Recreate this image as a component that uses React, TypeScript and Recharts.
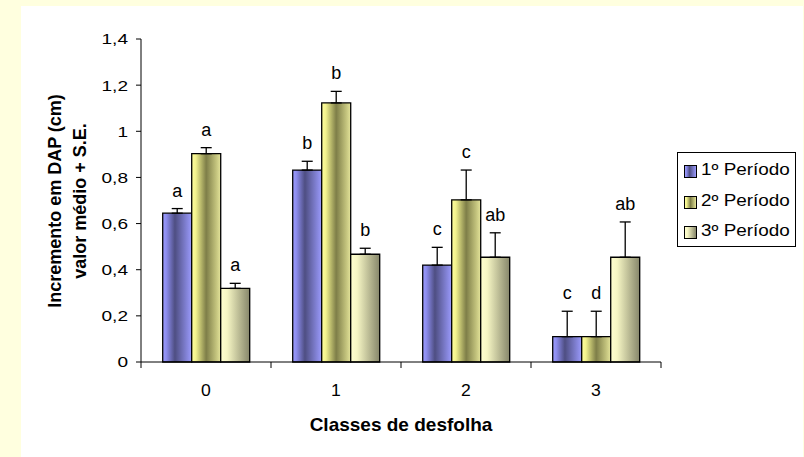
import React from "react";
import { Bar, BarChart, ErrorBar, LabelList, Legend, XAxis, YAxis } from "recharts";

const CLASSES = ["0", "1", "2", "3"];
const PERIODS = ["1º Período", "2º Período", "3º Período"];

// mean increment per defoliation class, one array per period
const P1 = [0.645, 0.832, 0.42, 0.11];
const P2 = [0.903, 1.123, 0.703, 0.11];
const P3 = [0.319, 0.467, 0.454, 0.454];

// standard errors (drawn upward only)
const E1 = [0.02, 0.038, 0.077, 0.11];
const E2 = [0.026, 0.05, 0.129, 0.11];
const E3 = [0.022, 0.026, 0.106, 0.153];

// significance letters
const L1 = ["a", "b", "c", "c"];
const L2 = ["a", "b", "c", "d"];
const L3 = ["a", "b", "ab", "ab"];

const Y_TICKS = [0, 0.2, 0.4, 0.6, 0.8, 1, 1.2, 1.4];

const FONT = "'Liberation Sans', Arial, sans-serif";

const rows = CLASSES.map((c, i) => ({
  classe: c,
  p1: P1[i],
  p2: P2[i],
  p3: P3[i],
  e1: [0, E1[i]],
  e2: [0, E2[i]],
  e3: [0, E3[i]],
}));

const GRADS: { id: string; stops: [string, string][] }[] = [
  {
    id: "g1",
    stops: [
      ["0%", "#9c9cff"],
      ["12%", "#8e8ef0"],
      ["42%", "#4e4e82"],
      ["100%", "#9a9afc"],
    ],
  },
  {
    id: "g2",
    stops: [
      ["0%", "#ffff9c"],
      ["14%", "#f2f28e"],
      ["50%", "#7e7e48"],
      ["85%", "#c4c47e"],
      ["100%", "#e4e49a"],
    ],
  },
  {
    id: "g3",
    stops: [
      ["0%", "#ffffd0"],
      ["22%", "#f6f6c4"],
      ["100%", "#86866a"],
    ],
  },
];

const cssGrad = (id: string) =>
  `linear-gradient(to right, ${GRADS.find((g) => g.id === id)!.stops
    .map(([o, c]) => `${c} ${o}`)
    .join(", ")})`;

const fmt = (v: number) => String(Number(v.toFixed(1))).replace(".", ",");

function YTick({ x, y, payload }: any) {
  return (
    <g transform={`translate(${x},${y}) scale(1.27,1)`}>
      <text x={0} y={0} dy="0.36em" textAnchor="end" fontSize={15} fontFamily={FONT} fill="#000">
        {fmt(payload.value)}
      </text>
    </g>
  );
}

function XTick({ x, y, payload, index }: any) {
  const half = payload.offset || 65;
  return (
    <g>
      <line x1={x - half} x2={x - half} y1={y} y2={y + 6} stroke="#000" />
      {index === CLASSES.length - 1 && (
        <line x1={x + half} x2={x + half} y1={y} y2={y + 6} stroke="#000" />
      )}
      <g transform={`translate(${x},${y + 34}) scale(1.1,1)`}>
        <text x={0} y={0} textAnchor="middle" fontSize={16} fontFamily={FONT} fill="#000">
          {payload.value}
        </text>
      </g>
    </g>
  );
}

function XTitle({ viewBox }: any) {
  return (
    <text
      x={viewBox.x + viewBox.width / 2}
      y={viewBox.y + 69}
      textAnchor="middle"
      fontSize={19}
      fontWeight="bold"
      fontFamily={FONT}
      fill="#000"
    >
      Classes de desfolha
    </text>
  );
}

function YTitle() {
  const cy = 201;
  return (
    <g fontSize={18} fontWeight="bold" fontFamily={FONT} fill="#000">
      <text x={61} y={cy} textAnchor="middle" transform={`rotate(-90, 61, ${cy})`}>
        Incremento em DAP (cm)
      </text>
      <text x={86} y={cy} textAnchor="middle" transform={`rotate(-90, 86, ${cy})`}>
        valor médio + S.E.
      </text>
    </g>
  );
}

function letterLabel(letters: string[], errs: number[]) {
  return (props: any) => {
    const { x, y, width, height, value, index } = props;
    if (!value) return null;
    const pxPerUnit = Math.abs(height) / value;
    const top = y - errs[index] * pxPerUnit;
    return (
      <text
        x={x + width / 2}
        y={top - 12}
        textAnchor="middle"
        fontSize={18}
        fontFamily={FONT}
        fill="#000"
      >
        {letters[index]}
      </text>
    );
  };
}

function LegendBox() {
  const ids = ["g1", "g2", "g3"];
  return (
    <div
      style={{
        width: 117,
        height: 93,
        border: "1px solid #000",
        background: "#fff",
        position: "relative",
        fontFamily: FONT,
      }}
    >
      {PERIODS.map((p, i) => (
        <div key={p} style={{ position: "absolute", left: 6, top: 11 + i * 30.5, height: 14 }}>
          <div
            style={{
              position: "absolute",
              left: 0,
              top: 1,
              width: 11,
              height: 11,
              border: "1px solid #000",
              background: cssGrad(ids[i]),
            }}
          />
          <div
            style={{
              position: "absolute",
              left: 17,
              top: -3,
              fontSize: 16,
              whiteSpace: "nowrap",
              transform: "scaleX(1.18)",
              transformOrigin: "left",
              color: "#000",
            }}
          >
            {p}
          </div>
        </div>
      ))}
    </div>
  );
}

export default function App() {
  return (
    <div
      style={{
        position: "absolute",
        left: 0,
        top: 0,
        width: 804,
        height: 457,
        background: "#ffffdf",
        overflow: "hidden",
      }}
    >
      <div style={{ position: "absolute", left: 21, top: 6, width: 782, height: 451, background: "#fff" }} />
      <div style={{ position: "absolute", left: 0, top: 0 }}>
        <BarChart
          width={804}
          height={457}
          data={rows}
          margin={{ top: 39, right: 143, bottom: 65, left: 81 }}
          barCategoryGap="16.7%"
          barGap={0}
        >
          <defs>
            {GRADS.map((g) => (
              <linearGradient key={g.id} id={g.id} x1="0" y1="0" x2="1" y2="0">
                {g.stops.map(([o, c]) => (
                  <stop key={o} offset={o} stopColor={c} />
                ))}
              </linearGradient>
            ))}
          </defs>
          <XAxis
            dataKey="classe"
            height={30}
            axisLine={{ stroke: "#000" }}
            tickLine={false}
            tickSize={0}
            tickMargin={0}
            tick={<XTick />}
            interval={0}
            label={<XTitle />}
          />
          <YAxis
            width={60}
            domain={[0, 1.4]}
            ticks={Y_TICKS}
            interval={0}
            axisLine={{ stroke: "#000" }}
            tickLine={{ stroke: "#000" }}
            tickSize={5}
            tickMargin={8}
            tick={<YTick />}
            label={<YTitle />}
          />
          <Legend
            layout="vertical"
            align="center"
            verticalAlign="middle"
            wrapperStyle={{ left: 677, top: 152, width: 119, height: 95 }}
            content={<LegendBox />}
          />
          <Bar dataKey="p1" name={PERIODS[0]} fill="url(#g1)" stroke="#000" strokeWidth={1.3} isAnimationActive={false}>
            <ErrorBar dataKey="e1" direction="y" width={5.5} stroke="#000" strokeWidth={1.3} isAnimationActive={false} />
            <LabelList dataKey="p1" content={letterLabel(L1, E1)} />
          </Bar>
          <Bar dataKey="p2" name={PERIODS[1]} fill="url(#g2)" stroke="#000" strokeWidth={1.3} isAnimationActive={false}>
            <ErrorBar dataKey="e2" direction="y" width={5.5} stroke="#000" strokeWidth={1.3} isAnimationActive={false} />
            <LabelList dataKey="p2" content={letterLabel(L2, E2)} />
          </Bar>
          <Bar dataKey="p3" name={PERIODS[2]} fill="url(#g3)" stroke="#000" strokeWidth={1.3} isAnimationActive={false}>
            <ErrorBar dataKey="e3" direction="y" width={5.5} stroke="#000" strokeWidth={1.3} isAnimationActive={false} />
            <LabelList dataKey="p3" content={letterLabel(L3, E3)} />
          </Bar>
        </BarChart>
      </div>
    </div>
  );
}
